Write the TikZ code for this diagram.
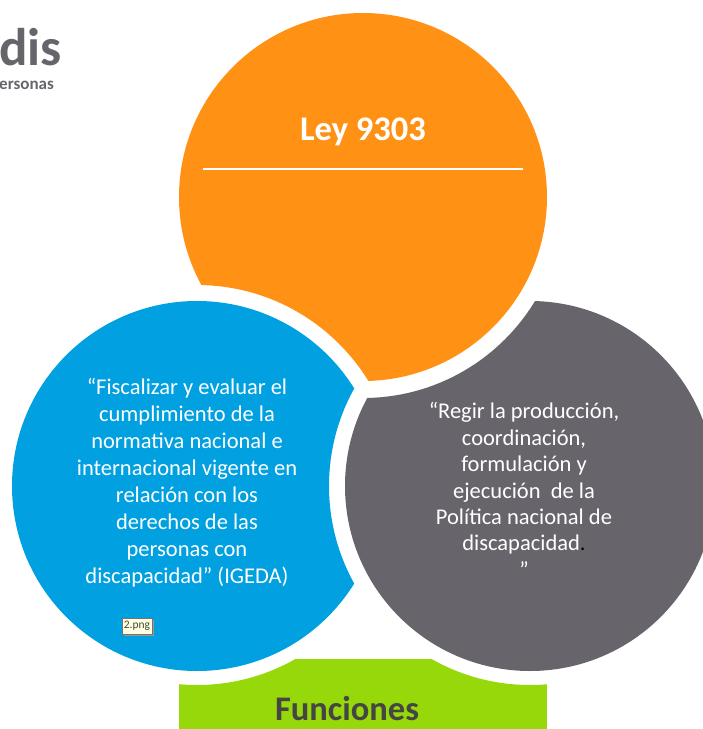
\documentclass[tikz,border=0pt]{standalone}
\usepackage{fontspec}
\setmainfont{Carlito}
\usetikzlibrary{positioning}
\definecolor{leyorange}{HTML}{FF9214}
\definecolor{funcblue}{HTML}{00A0E1}
\definecolor{funcgray}{HTML}{67656B}
\definecolor{funcgreen}{HTML}{97D80A}
\definecolor{funcdark}{HTML}{454545}
\definecolor{tipcream}{HTML}{FFFFE1}
\tikzset{
x = 1pt, y = -1pt,
title/.style = {text = white, font = \fontsize{34.5}{40}\selectfont\bfseries, inner sep = 0pt},
body/.style = {text = white, align = center, inner sep = 0pt,
   font = \fontsize{22.5}{27}\selectfont},
logo/.style = {text = funcgray, inner sep = 0pt, anchor = west},
tooltip/.style = {draw = black!55, fill = tipcream, inner sep = 0pt, minimum width = 30pt,
   minimum height = 16pt, font = \fontsize{11.5}{12}\selectfont, text = funcdark}
}

\begin{document}
\begin{tikzpicture}

\useasboundingbox (0,0) rectangle (703,729);
\clip (0,0) rectangle (703,729);

%% The centres
\coordinate (ley) at (363,197);
\coordinate (fisc) at (197,486);
\coordinate (regir) at (530,486);

%% The three discs, each one cut by the next
\begin{scope}[even odd rule]
\clip (-50,-50) rectangle (800,800) (fisc) circle (201pt);
\fill [leyorange] (ley) circle (184pt);
\end{scope}
\begin{scope}[even odd rule]
\clip (-50,-50) rectangle (800,800) (regir) circle (201pt);
\fill [funcblue] (fisc) circle (185pt);
\end{scope}
\begin{scope}[even odd rule]
\clip (-50,-50) rectangle (800,800) (ley) circle (201pt);
\fill [funcgray] (regir) circle (185pt);
\end{scope}

%% Green band
\begin{scope}[even odd rule]
\clip (-50,-50) rectangle (800,800) (fisc) circle (199pt);
\clip (-50,-50) rectangle (800,800) (regir) circle (199pt);
\fill [funcgreen] (179,659) rectangle (547,740);
\end{scope}
\node [text = funcdark, font = \fontsize{34.5}{40}\selectfont\bfseries, inner sep = 0pt] (funciones) at (347,709) {Funciones};

%% Title
\node [title] (leytitle) at (363,132) {Ley 9303};
\coordinate (ruleleft) at (203,169);
\coordinate (ruleright) at (523,169);
\draw [white, line width = 1.5pt] (ruleleft) -- (ruleright);

%% Texts
\node [body] (fisctext) at (187,483) {“Fiscalizar y evaluar el\\cumplimiento de la\\normativa nacional e\\internacional vigente en\\relación con los\\derechos de las\\personas con\\discapacidad” (IGEDA)};
\node [body, font = \fontsize{22.5}{26.4}\selectfont] (regirtext) at (524,490) {“Regir la producción,\\coordinación,\\formulación y\\ejecución\ \ de la\\Política nacional de\\discapacidad{\color{black}.}\\”};

%% Tooltip
\fill [black!40] (124,620) rectangle (154,636);
\node [tooltip] (png) at (137,626) {2.png};

%% Logo
\node [logo, font = \fontsize{53}{56}\selectfont\bfseries] (dis) at (-1,47) {dis};
\node [logo, font = \fontsize{17}{20}\selectfont\bfseries] (personas) at (-1,85) {ersonas};

\end{tikzpicture}
\end{document}
